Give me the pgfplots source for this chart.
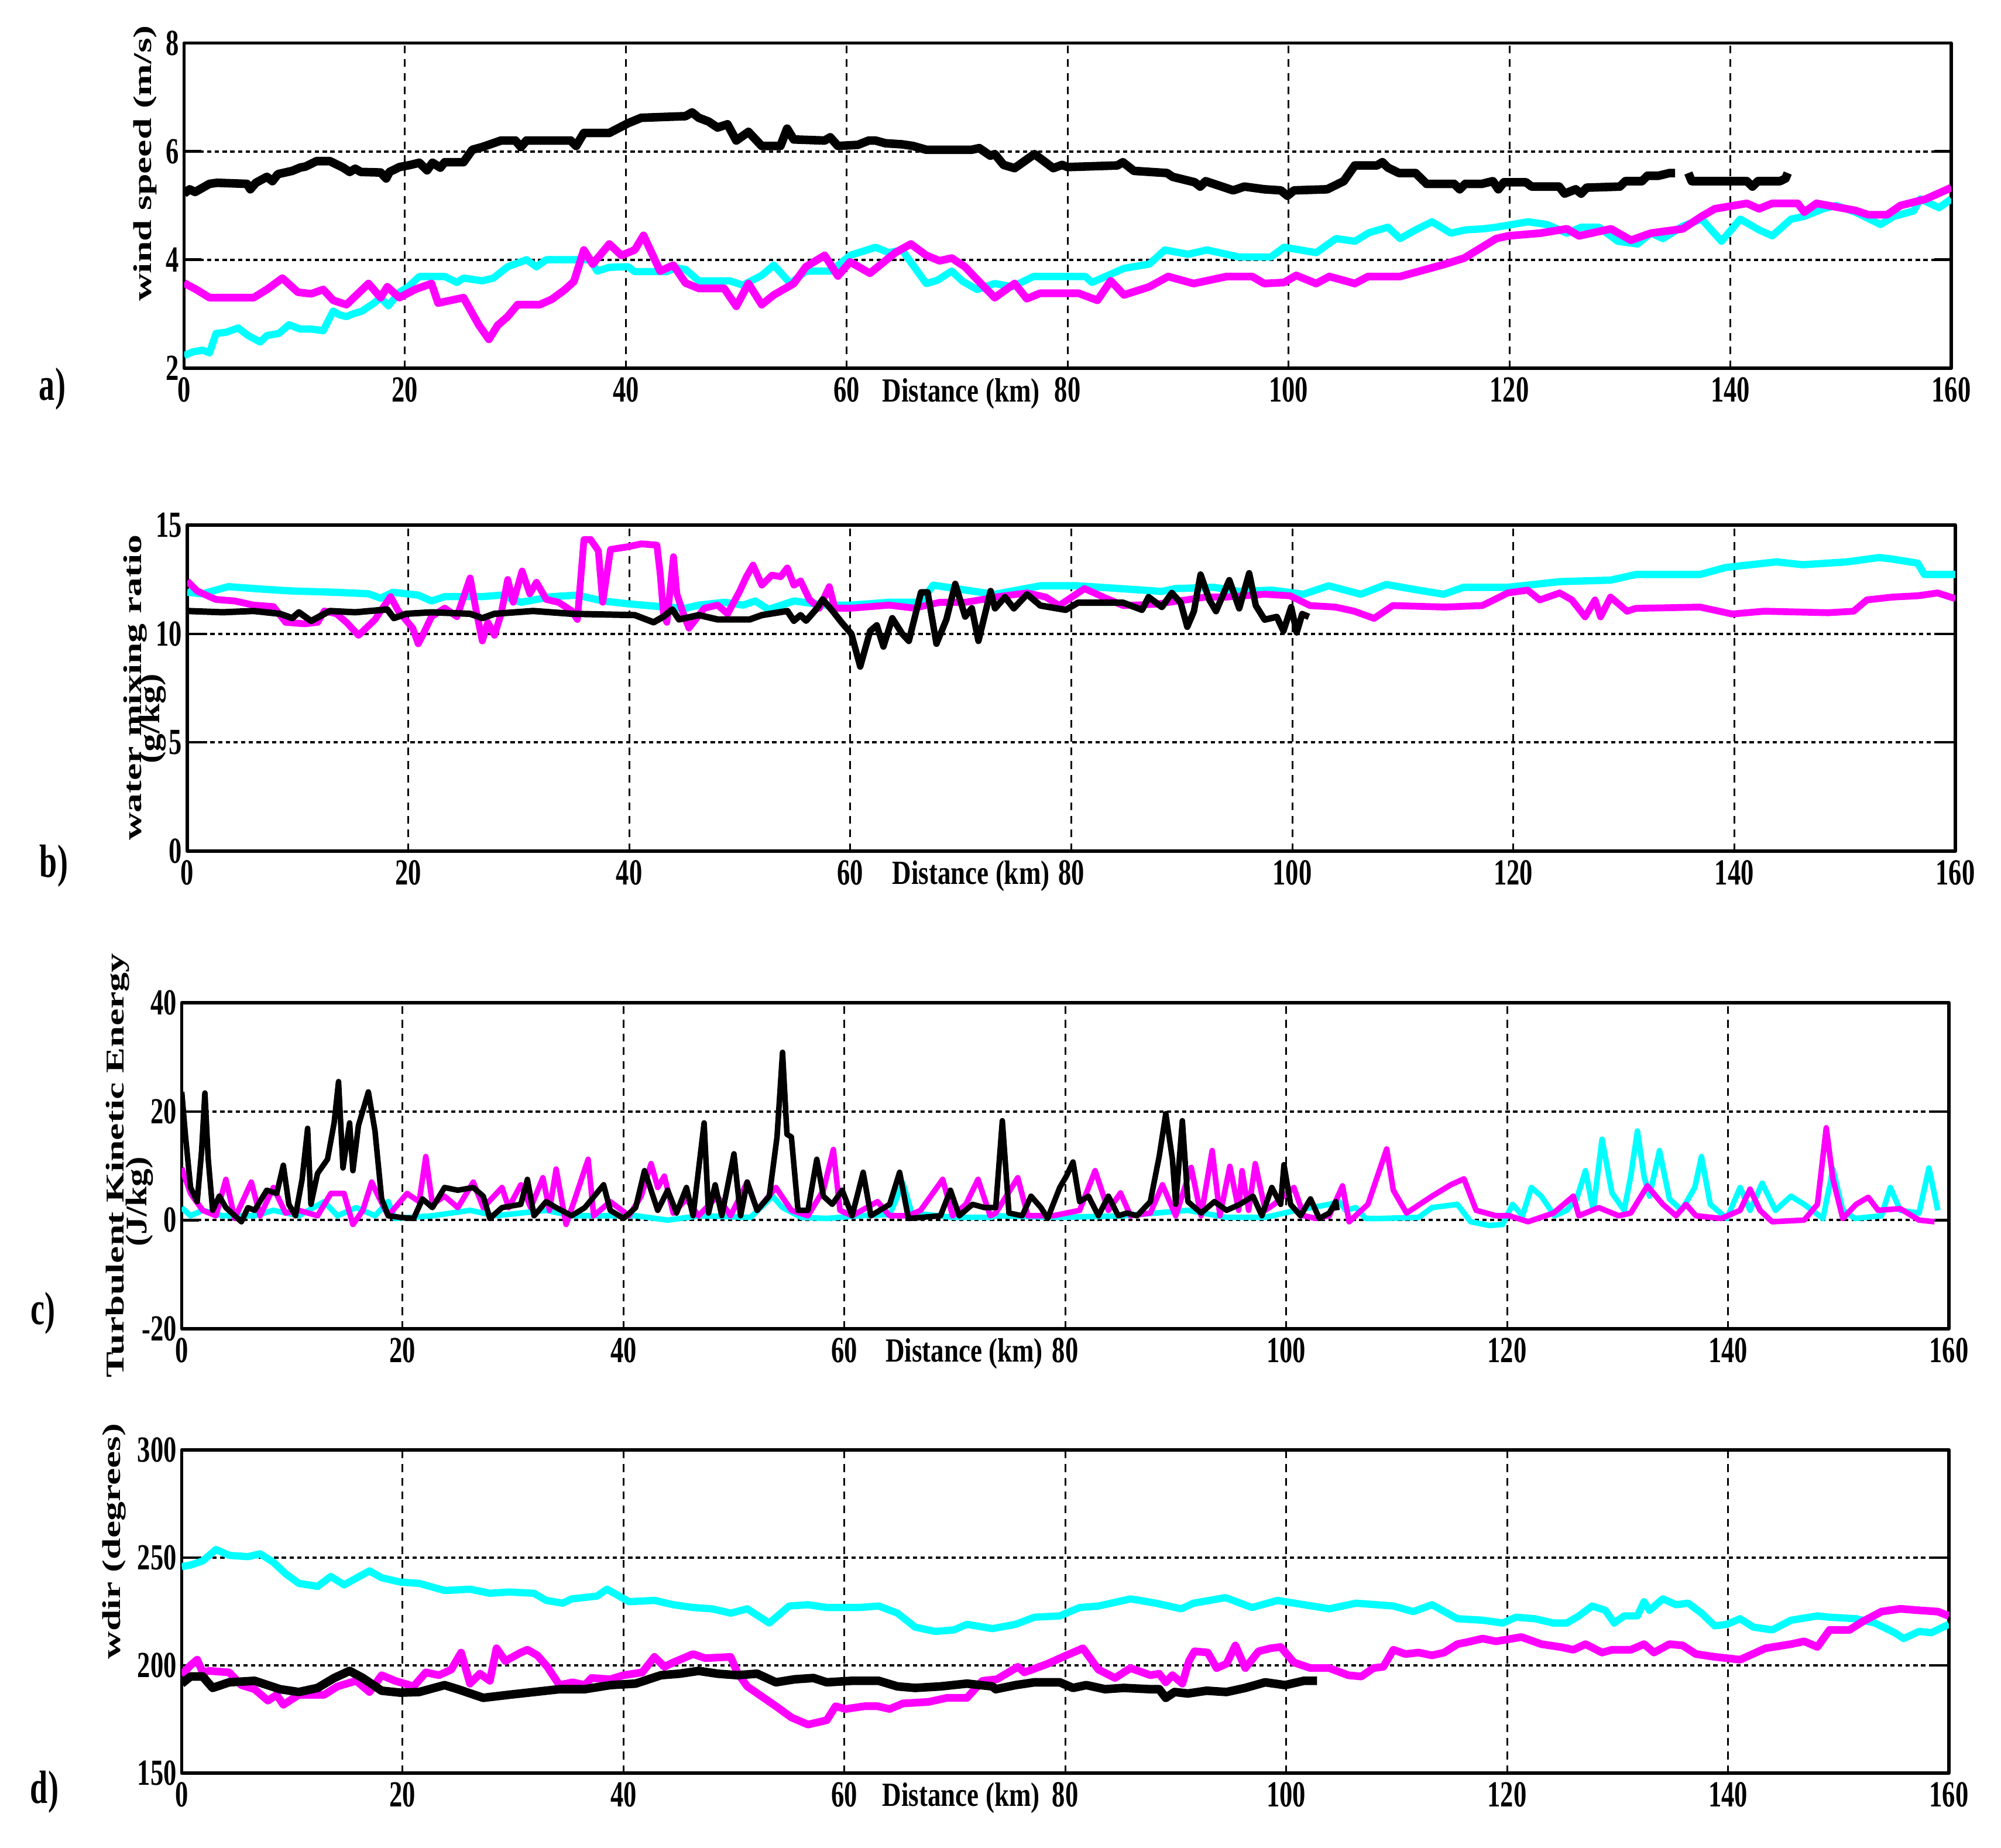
\documentclass[border=0pt]{standalone}
\usepackage{fontspec}
\setmainfont{Liberation Serif}
\newfontfamily\tickfont[FakeStretch=0.71]{Liberation Serif}
\newfontfamily\distfont[FakeStretch=0.78]{Liberation Serif}
\newfontfamily\panfont[FakeStretch=0.68]{Liberation Serif}
\newfontfamily\ylabfont[FakeStretch=1.5]{Liberation Serif}
\newfontfamily\ylabbfont[FakeStretch=1.2]{Liberation Serif}
\usepackage{pgfplots}
\pgfplotsset{compat=1.18}
\definecolor{cyn}{rgb}{0,1,1}
\definecolor{mag}{rgb}{1,0,1}
\pgfplotsset{panel/.style={
  scale only axis, width=413.3pt, height=76.1pt, xmin=0, xmax=160, xtick={0,20,...,160},
  grid=major,
  x grid style={black, line width=0.4pt, dash pattern=on 1.8pt off 1.4pt},
  y grid style={black, line width=0.55pt, dash pattern=on 1pt off 0.8pt},
  axis line style={line width=0.8pt},
  tick style={black, line width=0.6pt}, major tick length=4pt,
  xtick style={draw=none},
  tick label style={font=\tickfont\bfseries\fontsize{8.6}{8.6}\selectfont, inner sep=1pt},
  xticklabel style={yshift=-1pt},
  /pgf/number format/assume math mode=true,
  anchor=north west,
  line join=round,
}}
\tikzset{lab/.style={font=\distfont\bfseries\fontsize{7.9}{7.9}\selectfont},
  ylab/.style={rotate=90, font=\ylabfont\bfseries\fontsize{6}{6}\selectfont},
  ylabb/.style={rotate=90, font=\ylabbfont\bfseries\fontsize{7}{7}\selectfont},
  plab/.style={font=\panfont\bfseries\fontsize{10.9}{11}\selectfont}}
\begin{document}
\begin{tikzpicture}[x=1pt,y=1pt]
\useasboundingbox (0,0) rectangle (468,-432.1);
% ---------------- a) wind speed
\begin{axis}[panel, at={(43.05pt,-10.06pt)}, height=76pt, ymin=2, ymax=8, ytick={2,4,6,8}]
\addplot[cyn, line width=1.7pt] coordinates {(0,2.23)(0.8,2.3)(1.7,2.33)(2.3,2.28)(2.9,2.64)(3.8,2.66)(4.9,2.74)(5.8,2.6)(6.9,2.48)(7.5,2.6)(8.6,2.64)(9.5,2.8)(10.5,2.72)(11.5,2.72)(12.6,2.69)(13.5,3.05)(14.1,2.98)(14.7,2.95)(15.3,3.0)(16.1,3.05)(17.2,3.2)(17.8,3.3)(18.5,3.15)(19.5,3.4)(20.3,3.5)(21.3,3.69)(23.6,3.69)(24.7,3.58)(25.3,3.66)(27,3.61)(28,3.66)(29.3,3.87)(31,4.0)(31.9,3.87)(32.8,4.0)(36.8,4.0)(37.4,3.79)(38.5,3.86)(40.2,3.87)(40.8,3.78)(43.7,3.78)(44.5,3.85)(45.4,3.82)(46.6,3.61)(49.4,3.61)(50.6,3.53)(52.3,3.71)(53.4,3.9)(54.9,3.56)(56.3,3.79)(58.6,3.79)(60.3,4.08)(62.6,4.23)(63.8,4.13)(65,4.18)(66.1,3.87)(67.2,3.56)(68.2,3.62)(69.5,3.79)(70.5,3.6)(71.8,3.45)(73.4,3.56)(75,3.5)(76.9,3.69)(81.6,3.69)(82.2,3.58)(85.1,3.84)(87.4,3.92)(88.8,4.18)(90.9,4.1)(92.6,4.18)(94.4,4.1)(95.5,4.05)(98.4,4.05)(99.6,4.23)(102.5,4.13)(104.3,4.39)(106,4.34)(107.3,4.5)(109,4.6)(110.1,4.39)(111.5,4.55)(113,4.7)(114.7,4.49)(116,4.55)(117.6,4.57)(118.8,4.6)(121.7,4.7)(123.4,4.65)(125.2,4.49)(126.5,4.6)(128.1,4.6)(129.8,4.34)(131.6,4.29)(132.8,4.49)(133.9,4.39)(135.7,4.62)(137.4,4.75)(139.2,4.34)(140.9,4.75)(142.6,4.55)(143.8,4.44)(145.5,4.75)(146.7,4.8)(148.4,4.94)(149.6,5.0)(151.3,4.88)(153.6,4.65)(154.8,4.8)(156.6,4.9)(157.2,5.12)(158.9,4.96)(160,5.12)};
\addplot[mag, line width=1.8pt] coordinates {(0,3.57)(1.1,3.45)(2.3,3.3)(6.3,3.3)(7.5,3.45)(8.9,3.66)(10.3,3.4)(11.5,3.37)(12.6,3.45)(13.5,3.25)(14.7,3.17)(16.7,3.56)(17.8,3.3)(18.4,3.5)(19.5,3.3)(20.9,3.45)(22.4,3.56)(23,3.2)(25.3,3.3)(26.7,2.79)(27.6,2.53)(28.4,2.79)(29.3,2.95)(30.2,3.17)(32.2,3.17)(33.3,3.27)(34.5,3.45)(35.3,3.6)(36.2,4.18)(37,3.92)(38.5,4.29)(39.6,4.08)(40.8,4.18)(41.6,4.45)(43.1,3.79)(44.3,3.9)(45.4,3.57)(46.6,3.47)(48.9,3.47)(50,3.14)(51.1,3.56)(52.3,3.17)(53.4,3.35)(55.2,3.56)(56.3,3.87)(58,4.08)(59.2,3.7)(60.3,3.96)(62.1,3.75)(64.4,4.13)(65.8,4.29)(67.2,4.08)(68.4,3.98)(69.5,4.03)(70.7,3.87)(72.1,3.57)(73.4,3.3)(75.2,3.56)(76.3,3.28)(77.5,3.38)(81,3.38)(82.7,3.25)(83.9,3.61)(85.1,3.35)(87.4,3.5)(89.1,3.69)(91.4,3.56)(94.4,3.69)(96.7,3.69)(97.8,3.56)(99.6,3.58)(100.7,3.71)(102.5,3.56)(103.7,3.69)(106,3.56)(107.2,3.69)(110.1,3.69)(111.9,3.79)(114.2,3.92)(115.9,4.03)(118.8,4.39)(119.9,4.44)(122.8,4.49)(125.2,4.57)(126.3,4.44)(129.2,4.57)(131,4.36)(132.8,4.49)(135.7,4.57)(137.4,4.8)(138.6,4.94)(141.5,5.04)(142.6,4.94)(143.8,5.04)(146.1,5.04)(146.7,4.88)(147.8,5.04)(151.3,4.91)(152.5,4.83)(154.2,4.83)(155.4,5.0)(157.7,5.12)(160,5.33)};
\addplot[black, line width=2pt] coordinates {(0,5.22)(0.5,5.3)(1,5.25)(2.3,5.4)(3,5.42)(5.7,5.4)(6,5.3)(6.5,5.42)(7.5,5.53)(8,5.45)(8.5,5.58)(9.8,5.64)(10.5,5.7)(11,5.72)(12,5.82)(13.2,5.82)(14.4,5.7)(15,5.62)(15.5,5.68)(16,5.62)(17.8,5.61)(18.3,5.5)(18.6,5.62)(19.5,5.71)(20.5,5.75)(21.3,5.79)(22,5.65)(22.5,5.79)(23.2,5.7)(23.6,5.8)(25.3,5.8)(26.1,6.03)(27,6.08)(28.7,6.2)(30,6.2)(30.5,6.08)(31,6.2)(35,6.2)(35.5,6.1)(36.2,6.34)(38.5,6.34)(40.2,6.52)(41.4,6.62)(45.4,6.65)(46,6.72)(46.6,6.62)(47.5,6.55)(48.3,6.44)(49.2,6.5)(50,6.2)(51.1,6.36)(52.3,6.1)(54,6.1)(54.6,6.42)(55.2,6.22)(58,6.2)(58.5,6.26)(59.2,6.1)(61,6.12)(62,6.2)(62.6,6.2)(63.5,6.15)(65,6.13)(66,6.1)(67.2,6.03)(71.3,6.03)(72,6.06)(73,5.92)(73.4,5.95)(74.2,5.75)(75.2,5.69)(77,5.95)(78.7,5.69)(79.5,5.75)(80,5.71)(84.5,5.74)(85,5.8)(86,5.64)(89,5.6)(89.5,5.53)(91.5,5.43)(92,5.35)(92.5,5.45)(94.4,5.32)(95,5.28)(96,5.35)(97.8,5.3)(99.3,5.28)(99.9,5.18)(100.5,5.28)(103.5,5.3)(104.5,5.4)(105,5.45)(106,5.74)(108,5.74)(108.5,5.8)(109,5.7)(110,5.6)(111.5,5.6)(112.5,5.4)(115,5.4)(115.5,5.3)(116,5.4)(117.5,5.4)(118.5,5.45)(119,5.3)(119.5,5.43)(121.5,5.43)(122,5.35)(124.5,5.35)(125,5.22)(126,5.3)(126.5,5.22)(127,5.33)(130,5.35)(130.5,5.45)(132,5.45)(132.5,5.55)(133.5,5.55)(134.5,5.6)(135,5.6)};
\addplot[black, line width=2pt] coordinates {(136.2,5.6)(136.5,5.45)(139,5.45)(141.5,5.45)(142,5.35)(142.5,5.45)(144.5,5.45)(145,5.5)(145.2,5.6)};
\end{axis}
% ---------------- b) water mixing ratio
\begin{axis}[panel, at={(43.8pt,-122.8pt)}, width=413.5pt, height=76.2pt, ymin=0, ymax=15, ytick={0,5,10,15}]
\addplot[cyn, line width=1.7pt] coordinates {(0,11.91)(1.4,11.84)(3.7,12.17)(7.2,12.04)(9.5,11.97)(13.5,11.91)(16.4,11.84)(17.5,11.64)(18.6,11.91)(20.9,11.78)(22.1,11.51)(23.3,11.71)(26.7,11.71)(28.4,11.78)(30.2,11.45)(33,11.71)(35.3,11.78)(37.6,11.51)(39.9,11.38)(42.8,11.25)(45.1,11.18)(46.3,11.32)(48.6,11.45)(50.3,11.32)(51.4,11.51)(52.6,11.12)(54.9,11.51)(57.8,11.32)(60.1,11.32)(63.5,11.45)(66.4,11.45)(67.5,12.24)(69.3,12.1)(72.7,11.84)(73.1,11.82)(77.2,12.21)(80.6,12.21)(88.2,11.95)(89.4,12.08)(92.9,12.14)(95.2,11.95)(98.1,12.01)(101,11.82)(103.3,12.21)(106.2,11.82)(108.5,12.27)(111.4,12.01)(113.7,11.82)(115.5,12.14)(119.5,12.14)(124.2,12.4)(128.8,12.47)(131.1,12.73)(136.9,12.73)(139.2,13.05)(143.8,13.31)(146.2,13.18)(150.2,13.31)(153.1,13.51)(154.3,13.44)(156.6,13.25)(157.2,12.73)(160,12.73)};
\addplot[mag, line width=1.6pt] coordinates {(0,12.43)(0.9,11.97)(2,11.71)(2.6,11.58)(4.3,11.51)(6,11.32)(7.8,11.25)(8.9,10.53)(10.6,10.46)(11.8,10.53)(12.4,11.05)(13.5,10.92)(14.4,10.53)(15.5,9.93)(17,10.66)(17.5,11.05)(18.4,11.71)(19.1,11.05)(20.4,10.26)(20.9,9.54)(21.3,9.93)(22.1,10.79)(23.3,11.18)(24.4,10.79)(25.6,12.57)(26.1,11.18)(26.7,9.67)(27.2,10.53)(27.8,9.93)(28.4,10.92)(29,12.5)(29.5,11.45)(30.3,12.89)(31,11.84)(31.6,12.37)(32.5,11.58)(33.6,11.45)(34.8,11.05)(35.3,10.66)(35.9,14.34)(36.5,14.34)(37.2,13.82)(37.6,11.45)(38.3,13.88)(39.9,14.01)(41.1,14.14)(42.5,14.08)(42.8,12.76)(43.1,10.92)(43.4,10.53)(44,13.55)(44.3,11.84)(44.9,10.92)(45.4,10.26)(46,10.66)(46.8,11.18)(48,11.32)(48.9,10.92)(50,11.97)(50.6,12.63)(51.2,13.16)(52,12.24)(52.9,12.7)(53.7,12.63)(54.3,13.03)(54.9,12.24)(55.5,12.43)(56.3,11.58)(57.2,11.18)(58.1,12.17)(58.6,11.18)(60.1,11.18)(63.5,11.32)(65.8,11.18)(68.1,11.45)(70.4,11.45)(72.7,11.64)(73.1,11.69)(76,11.88)(77.7,11.69)(78.9,11.3)(81.2,12.08)(82.9,11.69)(84.7,11.3)(87.6,11.36)(92.2,11.69)(94,11.69)(97.5,11.82)(99.8,11.75)(101.6,11.3)(103.9,11.23)(105.6,11.04)(107.4,10.71)(109.1,11.3)(113.8,11.23)(117.2,11.3)(119.5,11.88)(121.3,12.01)(122.4,11.56)(124.2,11.88)(125.3,11.56)(126.5,10.78)(127.4,11.56)(127.9,10.78)(128.8,11.69)(130.3,11.04)(131.1,11.17)(136.9,11.23)(139.8,10.91)(142.7,11.04)(148.5,10.97)(150.8,11.04)(152,11.56)(154.3,11.69)(156.6,11.75)(158.4,11.88)(160,11.62)};
\addplot[black, line width=1.5pt] coordinates {(0,11.05)(3.2,10.99)(6,11.05)(8.4,10.92)(9.5,10.72)(10.1,10.99)(11.2,10.59)(12.9,11.05)(15.2,10.99)(18.1,11.12)(18.7,10.72)(19.8,10.92)(22.1,10.99)(25.6,10.92)(26.7,10.72)(27.8,10.92)(31.3,11.05)(34.8,10.92)(40.5,10.86)(42.2,10.53)(43.1,10.79)(43.9,11.12)(44.5,10.66)(46.3,10.86)(48,10.66)(50.9,10.66)(52,10.86)(54.3,11.05)(54.9,10.6)(55.5,10.86)(56,10.6)(56.9,11.12)(57.5,11.58)(58.4,11.05)(59.2,10.53)(60.1,10.0)(60.9,8.49)(61.8,10.13)(62.4,10.39)(63,9.41)(63.8,10.72)(64.7,10.0)(65.3,9.67)(66.4,11.91)(67,11.91)(67.8,9.54)(68.7,10.66)(69.5,12.3)(70.4,10.79)(71,11.18)(71.6,9.67)(72.7,11.97)(73.1,11.17)(74,11.69)(74.8,11.17)(76,11.82)(77.2,11.3)(79.5,11.1)(80.6,11.43)(84.7,11.43)(86.4,11.1)(87,11.69)(88.2,11.23)(89.1,11.88)(89.9,11.43)(90.5,10.32)(91.1,11.04)(91.7,12.73)(92.5,11.56)(93.1,11.04)(94.3,12.47)(95.2,11.17)(96.1,12.79)(96.7,11.3)(97.5,10.65)(98.6,10.78)(99.2,10.13)(99.9,11.23)(100.4,10.06)(100.9,10.91)(101.5,10.78)};
\end{axis}
% ---------------- c) TKE
\begin{axis}[panel, at={(42.5pt,-234.5pt)}, height=76.2pt, ymin=-20, ymax=40, ytick={-20,0,20,40}]
\addplot[cyn, line width=1.3pt] coordinates {(0,2.3)(0.8,0.8)(1.9,1.8)(3.7,0.8)(6.6,0.8)(8.3,1.8)(10.6,0.8)(12.9,3.4)(14.1,0.8)(15.8,2.3)(17.5,0.8)(18.7,3.4)(19.3,0.3)(22.7,0.8)(26.1,1.8)(28.4,0.8)(33,1.8)(35.3,0.8)(41.1,0.8)(44,0)(46.9,0.8)(51.5,0.5)(53.5,4.4)(54.4,2.3)(56.1,0.5)(58.4,0.3)(61.3,0.8)(64.1,1)(65.3,6.8)(66.1,1.3)(69.9,0.5)(73.3,0.5)(73.7,0.8)(79.5,0.5)(85.3,0.8)(91.1,1.8)(94.6,0.5)(98.1,0.5)(100.9,1.8)(103.9,2.9)(104.8,3.4)(105.4,1.8)(106.3,2.3)(107.2,0.3)(108.6,0.3)(112,0.5)(113.2,2.3)(115.5,2.9)(116.7,-0.3)(118.4,-1)(119.6,-0.8)(120.5,2.9)(121.4,0.8)(122.2,6)(123.1,4.4)(124.3,0.8)(125.4,1.8)(126.3,3.9)(127.1,9.1)(127.8,1.8)(128.6,14.9)(129.5,5)(130.6,1.8)(131.2,8.1)(131.8,16.4)(132.4,8.1)(132.9,4.4)(133.8,12.8)(134.7,3.9)(135.8,1.8)(137,6)(137.6,11.7)(138.4,2.9)(139.9,0.3)(141.1,6)(142,1.8)(143.1,6.8)(144.3,1.8)(145.7,4.4)(146.9,2.9)(148.6,0.3)(149.5,9.4)(150.4,1.8)(151.5,0.3)(153.9,0.8)(154.7,6)(155.6,1.8)(157.3,1.3)(158.2,9.6)(159,1.8)};
\addplot[mag, line width=1.3pt] coordinates {(0,9.6)(0.8,4.9)(1.9,1.8)(3.1,0.8)(4,7.5)(4.8,0.3)(6.3,7)(7.1,0.8)(8.3,6)(9.4,1.3)(10.6,1.8)(12.3,0.8)(13.5,4.9)(14.7,4.9)(15.5,-0.8)(16.4,1.8)(17.2,7)(17.8,4.4)(18.7,0.8)(20.4,4.9)(21.5,3.4)(22.1,11.7)(22.7,2.9)(23.8,4.4)(25,2.3)(26.4,7)(27.3,2.3)(29,6)(29.6,2.3)(30.7,6.5)(31.6,2.3)(32.7,7.8)(33.3,1.8)(33.9,9.4)(34.8,-0.8)(35.6,3.9)(36.8,11.2)(37.3,0.8)(38.8,3.4)(40.5,0.8)(41.6,4.4)(42.5,10.4)(43.1,6)(43.7,8.1)(44.5,1.3)(45.7,3.9)(46.8,0.8)(48.5,4.4)(49.7,0.8)(51.2,7)(52.1,1.8)(53.8,6)(55.2,1.8)(56.7,0.8)(58.1,5.5)(59,13)(59.6,1.8)(60.7,0.8)(63,3.4)(64.1,0.8)(65.8,0.8)(66.9,1.8)(68.9,7.5)(69.8,0.8)(71,2.9)(72.1,7.5)(73.2,0.8)(73.7,1.3)(75.7,7.8)(76.6,0.8)(78.9,0.8)(81.3,1.8)(82.7,9.1)(83.9,1.8)(85,5)(85.9,0.8)(87.7,1.3)(88.8,6.5)(90,0.8)(91.4,9.7)(92.3,0.8)(93.3,12.8)(94,0.8)(94.9,9.9)(95.7,1.8)(96,9.1)(96.6,1.8)(97.2,10.4)(98.1,1.8)(98.9,2.9)(100.7,6)(101.6,0.8)(102.7,0.3)(103.9,0.8)(105.1,6.3)(105.7,-0.3)(107.4,2.9)(109.1,13.1)(109.7,5.5)(110.9,1.3)(113.2,4.4)(114.9,6.5)(116.1,7.6)(117.2,1.8)(119,0.8)(120.2,0.8)(121.9,-0.3)(124.2,1.3)(126,4.4)(126.5,0.8)(128.3,2.3)(130.1,0.8)(131.2,1.3)(132.7,6.3)(134.1,2.9)(135.3,0.8)(136.2,2.9)(137.1,0.8)(139.4,0.3)(141.1,1.8)(142,5.7)(142.9,1.8)(144,-0.3)(146.9,0)(148.1,2.9)(148.9,17)(149.5,7.6)(150.4,0.3)(151.6,2.9)(152.7,4.2)(153.6,1.8)(155.6,2.1)(157.3,0)(158.7,-0.3)};
\addplot[black, line width=1.3pt] coordinates {(0,23.6)(0.35,15.3)(0.8,6)(1.4,3.4)(1.8,12.7)(2.1,23.4)(2.4,11.2)(2.8,1.8)(3.4,4.4)(4,2.3)(4.8,0.8)(5.4,-0.3)(6,2.3)(6.6,1.8)(7.7,5.5)(8.6,4.9)(9.2,10.1)(9.7,2.9)(10.3,0.8)(10.9,7.5)(11.4,16.9)(11.7,2.9)(12.3,8.6)(13.2,11.2)(13.8,17.9)(14.2,25.5)(14.6,9.6)(15.2,17.9)(15.5,9.1)(16,17.4)(16.9,23.6)(17.5,16.4)(18.1,3.9)(18.7,0.8)(19.8,0.5)(21,0.3)(21.8,3.9)(22.7,2.3)(23.8,6)(25,5.5)(26.4,6)(27.3,4.4)(27.9,0.3)(29,2.3)(30.7,2.9)(31.3,7.5)(31.9,0.8)(33,3.4)(33.9,2.3)(35.3,0.8)(36.5,2.3)(38.2,6.5)(38.8,1.8)(40,0.3)(41.1,2.3)(41.9,9.1)(43.1,1.8)(44,5.5)(44.8,1.3)(45.7,6)(46.3,0.8)(47.3,17.9)(47.7,1.3)(48.3,6.5)(48.9,0.8)(50,12.2)(50.6,0.8)(51.2,7)(52.1,1.8)(53.2,4.4)(53.9,15.3)(54.4,30.9)(54.8,15.8)(55.2,15.3)(55.8,1.8)(56.7,1.8)(57.5,11.2)(58.1,4.4)(58.9,2.9)(59.8,5.5)(60.7,0.8)(61.7,8.8)(62.4,0.8)(64.1,2.9)(65,8.8)(65.8,0.3)(68.7,0.8)(69.6,5.5)(70.4,0.8)(71.6,2.9)(72.7,2.3)(73.7,2.3)(74.3,18.3)(74.9,1.3)(76.1,0.8)(76.9,4.4)(77.8,2.3)(78.4,0.3)(79.5,6)(80.1,8.1)(80.7,10.7)(81.3,3.4)(82.1,4.4)(83,0.8)(83.9,4.4)(84.8,0.8)(85.6,1.3)(86.5,0.8)(87.7,3.4)(88.5,11.7)(89.1,19.6)(89.7,11.2)(90,2.9)(90.6,18.3)(91.1,3.4)(92.3,1.3)(93.5,3.4)(94.6,1.8)(95.8,2.9)(97,4.4)(97.8,0.8)(98.7,6)(99.5,2.9)(99.8,10.2)(100.4,2.9)(101.3,0.8)(102.2,3.9)(103,0.3)(103.9,1.3)(104.5,3.4)(104.6,1.8)};
\end{axis}
% ---------------- d) wind direction
\begin{axis}[panel, at={(42.5pt,-339pt)}, height=75.6pt, ymin=150, ymax=300, ytick={150,200,250,300}]
\addplot[cyn, line width=1.7pt] coordinates {(0,245.8)(0.8,246.5)(1.9,248.4)(3.1,253.7)(4.3,251)(6,250.4)(7.1,251.7)(8.3,247.8)(9.4,242.5)(10.6,238)(12.3,236.6)(13.5,241.2)(14.7,237.3)(17,243.8)(18.1,240.6)(19.8,238.6)(21.5,238)(23.8,234.7)(26.1,235.3)(27.9,233.4)(29.6,234)(31.9,233.4)(33,230.1)(34.5,228.8)(35.3,230.8)(37.6,232.1)(38.5,235.3)(40.5,229.5)(42.8,230.1)(44.5,228.1)(46.3,226.8)(48,226.2)(49.7,224.2)(51.2,226.2)(53.2,219.6)(55,227.5)(56.7,228.1)(58.4,226.8)(61.3,226.8)(63.1,227.5)(64.8,224.2)(66.4,217.7)(68.2,215.7)(69.9,216.4)(71.1,219)(73.4,217)(75.5,219)(77.2,222.3)(79.5,222.9)(81.3,226.8)(83,227.5)(85.9,230.8)(88.2,228.8)(90.5,226.2)(91.6,228.8)(94.5,231.4)(96.9,226.8)(99.2,230.1)(101.6,228.1)(103.9,226.2)(106.3,228.8)(109.7,227.5)(111.5,224.9)(113.2,228.1)(115.5,221.6)(117.8,220.9)(119.6,219.6)(120.8,222.3)(122.5,221.6)(124.2,219.6)(125.4,219.6)(126.5,222.9)(127.7,227.5)(128.9,225.5)(129.7,219.6)(130.6,222.9)(131.8,222.9)(132.4,229.5)(132.9,225.5)(134.1,230.8)(135.3,228.1)(136.4,228.8)(137.6,224.2)(138.8,218.3)(139.9,219)(141.1,221.6)(142.3,217.7)(144,216.4)(145.7,220.9)(148.1,222.9)(149.2,222.3)(151.6,221.6)(153.3,219.6)(155.1,215.1)(155.9,212.4)(157.3,215.7)(158.4,215.1)(160,219)};
\addplot[mag, line width=1.8pt] coordinates {(0,195.4)(0.8,200)(1.4,202.6)(1.9,196.7)(2.5,197.4)(4.3,196.7)(5.4,190.8)(6.6,188.9)(7.8,183.6)(8.6,186.3)(9.2,181.7)(10.6,186.3)(12.9,186.3)(14.1,190.2)(15.8,192.8)(17,187.6)(18.1,195.4)(19.3,192.8)(21,190.2)(22.1,196.7)(23.3,195.4)(24.4,198)(25.3,205.9)(26.1,191.5)(27,196.1)(27.9,192.8)(28.5,207.9)(29.3,202)(30.7,205.9)(31.3,207.2)(32.2,204.6)(33.1,199.3)(34.2,190.8)(35.4,192.1)(36.5,190.8)(37.1,194.1)(38.8,193.5)(40,195.4)(41.7,196.7)(42.8,203.9)(43.7,199.3)(44.5,201.3)(46.3,205.2)(47.4,203.3)(49.7,203.9)(50.3,196.7)(51.2,190.2)(52.3,186.3)(53.8,181)(55.2,175.8)(56.7,172.5)(58.4,174.5)(59.2,181)(60.1,179.7)(61.8,181)(63,181)(64.1,179.7)(65.3,182.3)(67.6,183)(69.3,184.9)(71.1,184.9)(72.5,192.8)(73.8,193.5)(75.7,199.3)(76.3,196.7)(78.4,200.7)(80.1,204.6)(81.6,207.9)(83,198)(84.5,194.1)(85.9,198.7)(87.7,195.4)(88.5,196.1)(89.1,192.1)(89.7,195.4)(90.6,191.5)(91.2,202)(91.7,206.5)(92.9,205.9)(93.7,198.7)(94.6,200.7)(95.4,209.2)(96.3,198.7)(97.5,206.5)(98.6,207.9)(99.5,208.5)(100.7,201.3)(102.2,198.7)(103.9,198.7)(105.6,195.4)(106.8,194.8)(107.9,198.7)(108.8,199.3)(109.7,207.2)(110.8,205.2)(112,205.9)(113.2,204.6)(114.3,205.9)(115.5,209.8)(116.7,211.1)(117.8,212.4)(119,211.1)(121.3,213.1)(123.1,209.8)(124.8,208.5)(126,207.2)(127.1,209.8)(128.6,205.9)(129.5,207.2)(131.2,207.2)(132.4,209.8)(133.3,205.9)(134.7,209.8)(135.9,209.2)(137.1,205.2)(138.8,203.9)(141.1,202.6)(143.4,207.9)(145.7,209.8)(146.9,211.1)(148.1,208.5)(149.2,216.4)(151,216.4)(152.2,220.3)(153.9,224.9)(155.6,226.2)(157.3,225.5)(159,224.9)(160,222.9)};
\addplot[black, line width=2pt] coordinates {(0,191.5)(0.8,194.8)(1.9,194.8)(2.8,189.5)(4.3,192.1)(6.6,192.8)(8.9,188.9)(10.6,187.6)(12.3,189.5)(13.8,194.1)(15.2,197.4)(16.4,194.1)(18.1,188.2)(19.8,187.3)(21.5,187.6)(23.8,190.8)(25,188.9)(27.3,184.9)(29.6,186.3)(31.9,187.6)(34.2,188.9)(36.5,188.9)(38.8,190.8)(41.1,191.5)(43.4,195.4)(45.1,196.1)(46.8,197.4)(48.5,196.1)(50.3,195.4)(52.1,196.1)(53.8,192.1)(55.5,193.5)(57.2,194.1)(58.4,192.1)(60.7,192.8)(63.1,192.8)(64.8,190.2)(66.4,189.5)(68.7,190.2)(71.1,191.5)(73.4,190.2)(73.7,188.9)(75.5,190.8)(77.2,192.1)(79.5,192.1)(80.7,189.5)(81.9,190.8)(83.6,188.9)(85.3,189.5)(87.7,188.9)(88.5,188.9)(89.1,184.9)(89.9,187.6)(91.1,186.9)(92.8,188.2)(94.6,187.6)(96.3,189.5)(98.1,192.1)(99.9,190.8)(101.6,192.8)(102.8,192.8)};
\end{axis}
% ---------------- labels
\node[lab] at (224.8,-92) {Distance (km)};
\node[lab] at (227.1,-204.9) {Distance (km)};
\node[lab] at (225.5,-316.6) {Distance (km)};
\node[lab] at (224.8,-420.5) {Distance (km)};
\node[plab] at (12.25,-91) {a)};
\node[plab] at (12.6,-202.5) {b)};
\node[plab] at (10,-307.1) {c)};
\node[plab] at (10.4,-419.1) {d)};
\node[ylab] at (33.9,-38.2) {wind speed (m/s)};
\node[ylab] at (31.6,-160.8) {water mixing ratio};
\node[ylabb] at (35.6,-168.1) {(g/kg)};
\node[ylab] at (27.5,-272.5) {Turbulent Kinetic Energy};
\node[ylabb] at (32.7,-281) {(J/kg)};
\node[ylab] at (26.7,-360.4) {wdir (degrees)};
\end{tikzpicture}
\end{document}
